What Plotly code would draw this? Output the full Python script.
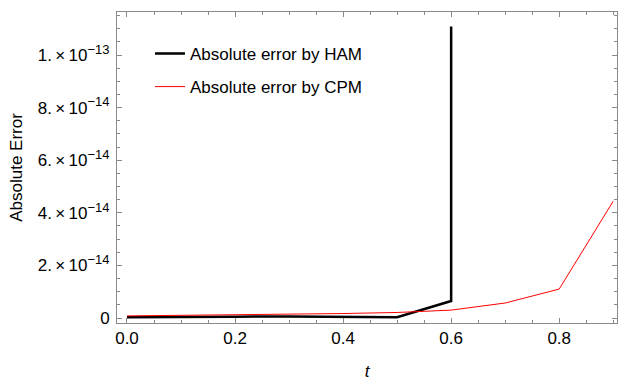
import plotly.graph_objects as go

t_ham = [0.0, 0.1, 0.2, 0.3, 0.4, 0.5, 0.6, 0.6]
err_ham = [0.3e-15, 0.5e-15, 0.5e-15, 0.6e-15, 0.4e-15, 0.3e-15, 0.645e-14, 1.108e-13]
t_cpm = [0.0, 0.1, 0.2, 0.3, 0.4, 0.5, 0.6, 0.7, 0.8, 0.9]
err_cpm = [0.08e-14, 0.1e-14, 0.12e-14, 0.14e-14, 0.17e-14, 0.21e-14, 0.3e-14, 0.57e-14, 1.1e-14, 4.44e-14]
ytick_vals = [0, 2e-14, 4e-14, 6e-14, 8e-14, 1e-13]
ytick_mant = ["2", "4", "6", "8", "1"]
ytick_exp = ["−14", "−14", "−14", "−14", "−13"]
xtick_vals = [0.0, 0.2, 0.4, 0.6, 0.8]
xtick_text = ["0.0", "0.2", "0.4", "0.6", "0.8"]

ytick_text = ["0"] + [
    f"{m}.\u2009×\u200910<sup><span style='font-size:13px'>{e}</span></sup>"
    for m, e in zip(ytick_mant, ytick_exp)
]

fig = go.Figure()
fig.add_trace(go.Scatter(x=t_ham, y=err_ham, mode="lines", name="Absolute error by HAM",
                         legendgroup="ham",
                         line=dict(color="black", width=2.5)))
fig.add_trace(go.Scatter(x=t_cpm, y=err_cpm, mode="lines", name="Absolute error by CPM",
                         legendgroup="cpm",
                         line=dict(color="#ff0000", width=1)))

axcol = "#8a8a8a"
fig.update_layout(
    width=618, height=381,
    margin=dict(l=117, r=1, t=12, b=58, autoexpand=False),
    paper_bgcolor="white", plot_bgcolor="white",
    font=dict(family="Liberation Sans, Arial, sans-serif", size=17, color="black"),
    showlegend=True,
    legend=dict(x=0.066, y=0.923, xanchor="left", yanchor="top",
                bgcolor="rgba(0,0,0,0)", font=dict(size=17),
                tracegroupgap=8, itemwidth=30),
    xaxis=dict(range=[-0.0185, 0.907], showgrid=False, zeroline=False, automargin=False,
               showline=True, linecolor=axcol, linewidth=1, mirror="ticks",
               ticks="inside", ticklen=5, tickcolor=axcol,
               tickvals=xtick_vals, ticktext=xtick_text, tickfont=dict(size=17),
               minor=dict(ticks="inside", ticklen=3, dtick=0.05, tick0=0, tickcolor=axcol),
               title=dict(text="<i>t</i>", standoff=18, font=dict(size=17))),
    yaxis=dict(range=[-1.9e-15, 1.1635e-13], showgrid=False, zeroline=False, automargin=False,
               showline=True, linecolor=axcol, linewidth=1, mirror="ticks",
               ticks="inside", ticklen=5, tickcolor=axcol,
               tickvals=ytick_vals, ticktext=ytick_text, tickfont=dict(size=17),
               ticklabelstandoff=3,
               minor=dict(ticks="inside", ticklen=3, dtick=0.5e-14, tick0=0, tickcolor=axcol),
               title=dict(text="Absolute Error", standoff=10, font=dict(size=17))),
)
fig.write_html("out.html", config={"displayModeBar": False},
               post_script="document.body.style.margin='0';")
